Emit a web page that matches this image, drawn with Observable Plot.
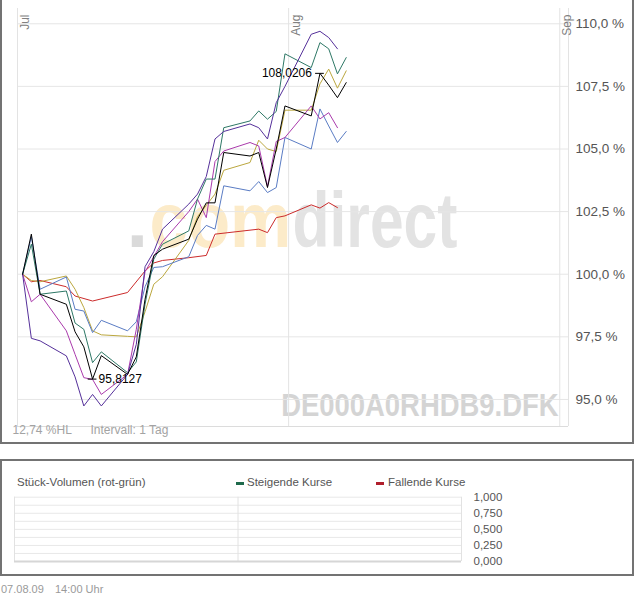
<!DOCTYPE html>
<html>
<head>
<meta charset="utf-8">
<script src="https://cdn.jsdelivr.net/npm/d3@7"></script>
<script src="https://cdn.jsdelivr.net/npm/@observablehq/plot@0.6"></script>
<style>
  body { margin: 0; background: #fff; font-family: "Liberation Sans", Arial, sans-serif; }
  #wrap { position: relative; width: 634px; height: 597px; overflow: hidden; background: #fff; }
  #wrap svg { position: absolute; left: 0; }
  .box { position: absolute; left: 0; width: 634px; box-sizing: border-box; border: 2px solid #737373; pointer-events: none; }
  .lbl { position: absolute; white-space: nowrap; font-size: 11.5px; color: #555; line-height: 14px; }
  .sw { position: absolute; width: 8px; height: 3px; }
  .foot { position: absolute; white-space: nowrap; font-size: 11px; color: #9a9a9a; line-height: 13px; }
</style>
</head>
<body>
<div id="wrap"></div>
<script>
// ---------------- data ----------------
const tradeDays = ["07-01","07-02","07-03","07-06","07-07","07-08","07-09","07-10","07-13","07-14",
  "07-15","07-16","07-17","07-20","07-21","07-22","07-23","07-24","07-27","07-28",
  "07-29","07-30","07-31","08-03","08-04","08-05","08-06","08-07"];

const blackSeries  = [100, 101.6, 99.2, 98.8, 97.7, 97.1, 95.8127, 96.75, 96.0, 96.7,
  99.0, 100.75, 101.0, 101.4, 102.2, 102.85, 102.85, 104.86, 104.72, 104.86,
  103.46, 105.0, 106.72, 106.32, 108.0206, 107.55, 107.05, 107.65];
const tealSeries   = [100, 101.2, 99.2, 99.33, 98.05, 97.8, 96.47, 96.9, 96.07, 96.5,
  98.8, 100.6, 101.2, 101.73, 103.0, 103.8, 103.8, 105.85, 106.12, 106.52,
  106.19, 106.5, 108.8, 108.25, 109.25, 109.0, 108.0, 108.65];
const purpleSeries = [100, 97.44, 97.34, 96.74, 95.9, 94.74, 95.2, 94.74, 96.0, 97.2,
  100.3, 100.9, 101.8, 102.8, 103.2, 103.9, 105.4, 105.7, 106.0, 105.85,
  105.4, 106.85, 107.5, 109.58, 109.7, 109.45, 109.0];
const magentaSeries = [100, 98.9, 99.2, 97.74, 96.8, 95.87, 95.8, 95.2, 96.0, 97.8,
  100.1, 100.7, 101.3, 102.5, 103.0, 102.26, 104.5, 104.92, 105.26, 105.12,
  103.5, 105.3, 105.46, 106.72, 106.2, 106.45, 105.85];
const blueSeries   = [100, 101.5, 99.4, 99.89, 98.6, 98.53, 97.67, 98.16, 97.74, 98.1,
  99.5, 100.27, 100.3, 100.7, 101.55, 101.95, 101.8, 103.53, 103.33, 103.7,
  103.26, 103.46, 105.46, 105.0, 106.6, 105.92, 105.26, 105.7];
const oliveSeries  = [100, 99.75, 99.7, 99.93, 99.4, 98.67, 97.74, 97.58, 97.52, 97.5,
  98.5, 99.6, 99.9, 101.35, 102.3, 102.75, 103.2, 104.15, 104.46, 105.35,
  105.0, 104.9, 106.55, 106.55, 107.6, 108.19, 107.43, 108.12];
const redDays = ["07-01","07-02","07-03","07-06","07-07","07-09","07-13","07-15","07-16","07-17",
  "07-20","07-22","07-23","07-28","07-29","07-30","07-31","08-03","08-04","08-05","08-06"];
const redSeries = [100, 99.7, 99.75, 99.5, 99.13, 98.93, 99.27, 100.13, 100.45, 100.55,
  100.66, 100.75, 101.6, 101.8, 101.66, 102.26, 102.33, 102.77, 102.64, 102.86, 102.66];

const monthStarts = ["2009-07-01", "2009-08-01", "2009-09-01"];
const monthLabels = ["Jul", "Aug", "Sep"];
const yTicks = [95, 97.5, 100, 102.5, 105, 107.5, 110];
const volGrid = [0, 0.125, 0.25, 0.375, 0.5, 0.625, 0.75, 0.875, 1];
const volTicks = [0, 0.25, 0.5, 0.75, 1];
const infoTexts = ["12,74 %HL", "Intervall: 1 Tag"];
const symbolText = "DE000A0RHDB9.DFK";
const footerDate = "07.08.09";
const footerTime = "14:00 Uhr";

// ---------------- helpers ----------------
const at14 = s => new Date(`2009-${s}T14:00:00Z`);
const day0 = s => new Date(`${s}T00:00:00Z`);
const months = monthStarts.map(day0);
const rowsOf = (days, vals) => vals.map((v, i) => ({date: at14(days[i]), value: v}));

const series = [
  {rows: rowsOf(redDays, redSeries),         color: "#cc2b2b"},
  {rows: rowsOf(tradeDays, oliveSeries),     color: "#bba73e"},
  {rows: rowsOf(tradeDays, blueSeries),      color: "#5a7cc4"},
  {rows: rowsOf(tradeDays, magentaSeries),   color: "#aa3aac"},
  {rows: rowsOf(tradeDays, tealSeries),      color: "#2e7866"},
  {rows: rowsOf(tradeDays, purpleSeries),    color: "#55309a"},
  {rows: rowsOf(tradeDays, blackSeries),     color: "#000000"}
];
const blackRows = series[6].rows;
const minRow = d3.least(blackRows, d => d.value);
const maxRow = d3.greatest(blackRows, d => d.value);
const fmt4 = v => v.toFixed(4).replace(".", ",");
const halfDay = 12 * 3600e3;

const FONT = '"Liberation Sans", Arial, sans-serif';

// ---------------- main chart ----------------
const main = Plot.plot({
  width: 634, height: 443,
  marginLeft: 17, marginRight: 66, marginTop: 8, marginBottom: 17,
  style: {fontFamily: FONT, fontSize: "13.5px", color: "#555", background: "transparent", overflow: "visible"},
  x: {type: "utc", domain: [day0("2009-07-01"), day0("2009-09-02")], axis: null},
  y: {domain: [93.92, 110.61], ticks: yTicks, axis: "right", tickSize: 0, tickPadding: 7, label: null,
      tickFormat: d => d.toFixed(1).replace(".", ",") + " %"},
  marks: [
    // watermarks
    Plot.text(["."],      {frameAnchor: "bottom-left", text: d => d, dx: 109, dy: -180, fontSize: 78, fontWeight: "bold", fill: "#dadada", textAnchor: "start"}),
    Plot.text(["com"],    {frameAnchor: "bottom-left", text: d => d, dx: 132, dy: -180, fontSize: 78, fontWeight: "bold", fill: "#fcebc9", textAnchor: "start"}),
    Plot.text(["direct"], {frameAnchor: "bottom-left", text: d => d, dx: 275, dy: -180, fontSize: 78, fontWeight: "bold", fill: "#e3e3e3", textAnchor: "start"}),
    Plot.text([symbolText], {frameAnchor: "bottom-right", text: d => d, dx: -10, dy: -11, fontSize: 31, fontWeight: "bold", fill: "#d4d4d4", textAnchor: "end"}),
    // grid
    Plot.ruleY(yTicks, {stroke: "#e6e6e6"}),
    Plot.ruleX(months, {stroke: "#e3e3e3"}),
    Plot.ruleY([93.92], {stroke: "#dcdcdc"}),
    Plot.ruleX([day0("2009-09-02")], {stroke: "#e3e3e3"}),
    // month labels
    Plot.text(months, {x: d => d, frameAnchor: "top", text: (d, i) => monthLabels[i], rotate: -90,
      textAnchor: "end", dx: 2.5, dy: 6, fontSize: 12, fill: "#808080"}),
    // info texts
    Plot.text([infoTexts[0]], {frameAnchor: "bottom-left", text: d => d, dx: -5, dy: 7, fontSize: 12, fill: "#a3a3a3", textAnchor: "start"}),
    Plot.text([infoTexts[1]], {frameAnchor: "bottom-left", text: d => d, dx: 73, dy: 7, fontSize: 12, fill: "#a3a3a3", textAnchor: "start"}),
    // series
    ...series.map(s => Plot.line(s.rows, {x: "date", y: "value", stroke: s.color, strokeWidth: 1})),
    // min / max annotations of the black series
    Plot.ruleY([minRow, maxRow], {y: "value", x1: d => new Date(+d.date - halfDay), x2: d => new Date(+d.date + halfDay), stroke: "#000"}),
    Plot.text([minRow], {x: "date", y: "value", text: d => fmt4(d.value), textAnchor: "start", dx: 6, fontSize: 12, fill: "#000"}),
    Plot.text([maxRow], {x: "date", y: "value", text: d => fmt4(d.value), textAnchor: "end", dx: -8, fontSize: 12, fill: "#000"})
  ]
});
main.style.top = "0px";

// ---------------- volume panel ----------------
const vol = Plot.plot({
  width: 634, height: 115,
  marginLeft: 14, marginRight: 173, marginTop: 36.7, marginBottom: 14,
  style: {fontFamily: FONT, fontSize: "11.5px", color: "#555", background: "transparent", overflow: "visible"},
  x: {type: "utc", domain: [months[0], months[2]], axis: null},
  y: {domain: [0, 1], ticks: volTicks, axis: "right", tickSize: 0, tickPadding: 12, label: null,
      tickFormat: d => d.toFixed(3).replace(".", ",")},
  marks: [
    Plot.ruleY(volGrid, {stroke: "#e8e8e8"}),
    Plot.ruleX(months, {stroke: "#e2e2e2"}),
    Plot.ruleY([0], {stroke: "#d6d6d6", strokeWidth: 2})
  ]
});
vol.style.top = "460px";

const wrap = document.getElementById("wrap");
wrap.appendChild(main);
wrap.appendChild(vol);

// squeeze the watermark words horizontally to the logo's width
const wmWidth = {"com": 142, "direct": 165, [symbolText]: 278};
d3.select(main).selectAll("text").each(function () {
  const t = this.textContent;
  if (!wmWidth[t]) return;
  const g = document.createElementNS("http://www.w3.org/2000/svg", "g");
  this.parentNode.insertBefore(g, this);
  g.appendChild(this);
  const bb = g.getBBox();
  const anchorEnd = t === symbolText;
  const ax = anchorEnd ? bb.x + bb.width : bb.x;
  const sx = wmWidth[t] / bb.width;
  g.setAttribute("transform", `translate(${ax},0) scale(${sx},1) translate(${-ax},0)`);
});

// frames
const b1 = document.createElement("div"); b1.className = "box";
b1.style.top = "-5px"; b1.style.height = "449px"; wrap.appendChild(b1);
const b2 = document.createElement("div"); b2.className = "box";
b2.style.top = "459px"; b2.style.height = "117px"; wrap.appendChild(b2);

// volume legend (HTML)
function addLbl(text, x, y, cls) {
  const d = document.createElement("div"); d.className = cls || "lbl";
  d.textContent = text; d.style.left = x + "px"; d.style.top = y + "px"; wrap.appendChild(d);
}
function addSw(color, x, y) {
  const d = document.createElement("div"); d.className = "sw";
  d.style.background = color; d.style.left = x + "px"; d.style.top = y + "px"; wrap.appendChild(d);
}
const volTitle = "Stück-Volumen (rot-grün)";
const legendNames = ["Steigende Kurse", "Fallende Kurse"];
const legendColors = ["#1f6a4c", "#b01f2c"];
addLbl(volTitle, 17, 475);
addSw(legendColors[0], 236, 482); addLbl(legendNames[0], 247, 475);
addSw(legendColors[1], 376, 482); addLbl(legendNames[1], 388, 475);
addLbl(footerDate, 1, 583, "foot");
addLbl(footerTime, 55, 583, "foot");
</script>
</body>
</html>
